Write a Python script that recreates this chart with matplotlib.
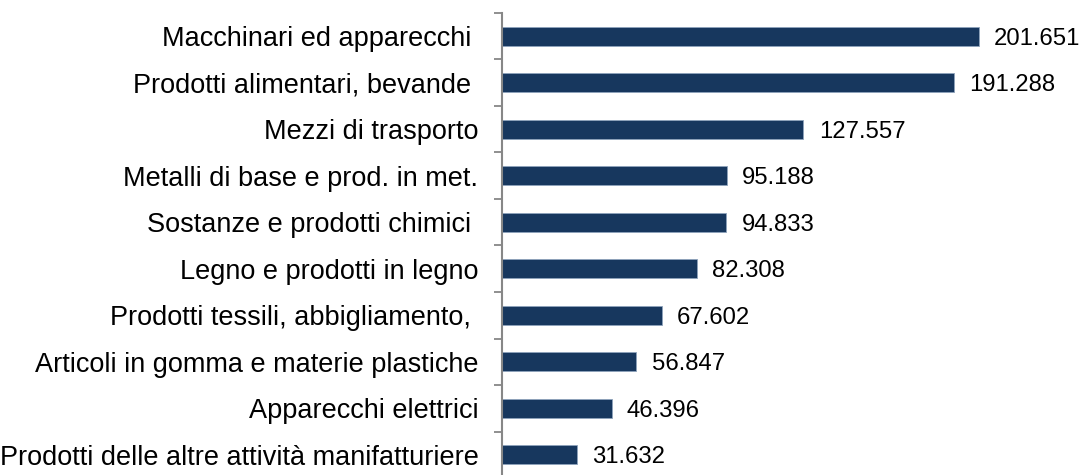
import matplotlib
matplotlib.use("Agg")
import matplotlib.pyplot as plt
import numpy as np

categories = [
    "Macchinari ed apparecchi ",
    "Prodotti alimentari, bevande ",
    "Mezzi di trasporto",
    "Metalli di base e prod. in met.",
    "Sostanze e prodotti chimici ",
    "Legno e prodotti in legno",
    "Prodotti tessili, abbigliamento, ",
    "Articoli in gomma e materie plastiche",
    "Apparecchi elettrici",
    "Prodotti delle altre attività manifatturiere",
]
values = [201651, 191288, 127557, 95188, 94833, 82308, 67602, 56847, 46396, 31632]

plt.rcParams['font.family'] = ['Liberation Sans', 'DejaVu Sans']

fig = plt.figure(figsize=(10.81, 4.75), dpi=100)
ax = fig.add_axes([502/1081, -3/475, 1 - 502/1081, 465/475])

y = np.arange(len(categories))
bars = ax.barh(y, values, height=0.41, color="#17375E", edgecolor="#8EA3BC", linewidth=0.6)
labels = [f"{v:,}".replace(",", ".") for v in values]
texts = ax.bar_label(bars, labels=labels, padding=11, fontsize=17.2, color="black")
for t in texts:
    t.set_va("center_baseline")

ax.set_ylim(len(categories) - 0.5, -0.5)
ax.set_xlim(0, 245000)
ax.set_yticks(y)
ax.set_yticklabels(categories, fontsize=19.5)
ax.set_yticks(np.arange(-0.5, len(categories), 1.0), minor=True)
ax.tick_params(axis='y', which='major', length=0, pad=17)
ax.tick_params(axis='y', which='minor', length=6, width=1.3, color="#878787")
ax.set_xticks([])
for s in ["top", "right", "bottom"]:
    ax.spines[s].set_visible(False)
ax.spines["left"].set_color("#878787")
ax.spines["left"].set_linewidth(1.5)

fig.savefig("out.png", dpi=100)
